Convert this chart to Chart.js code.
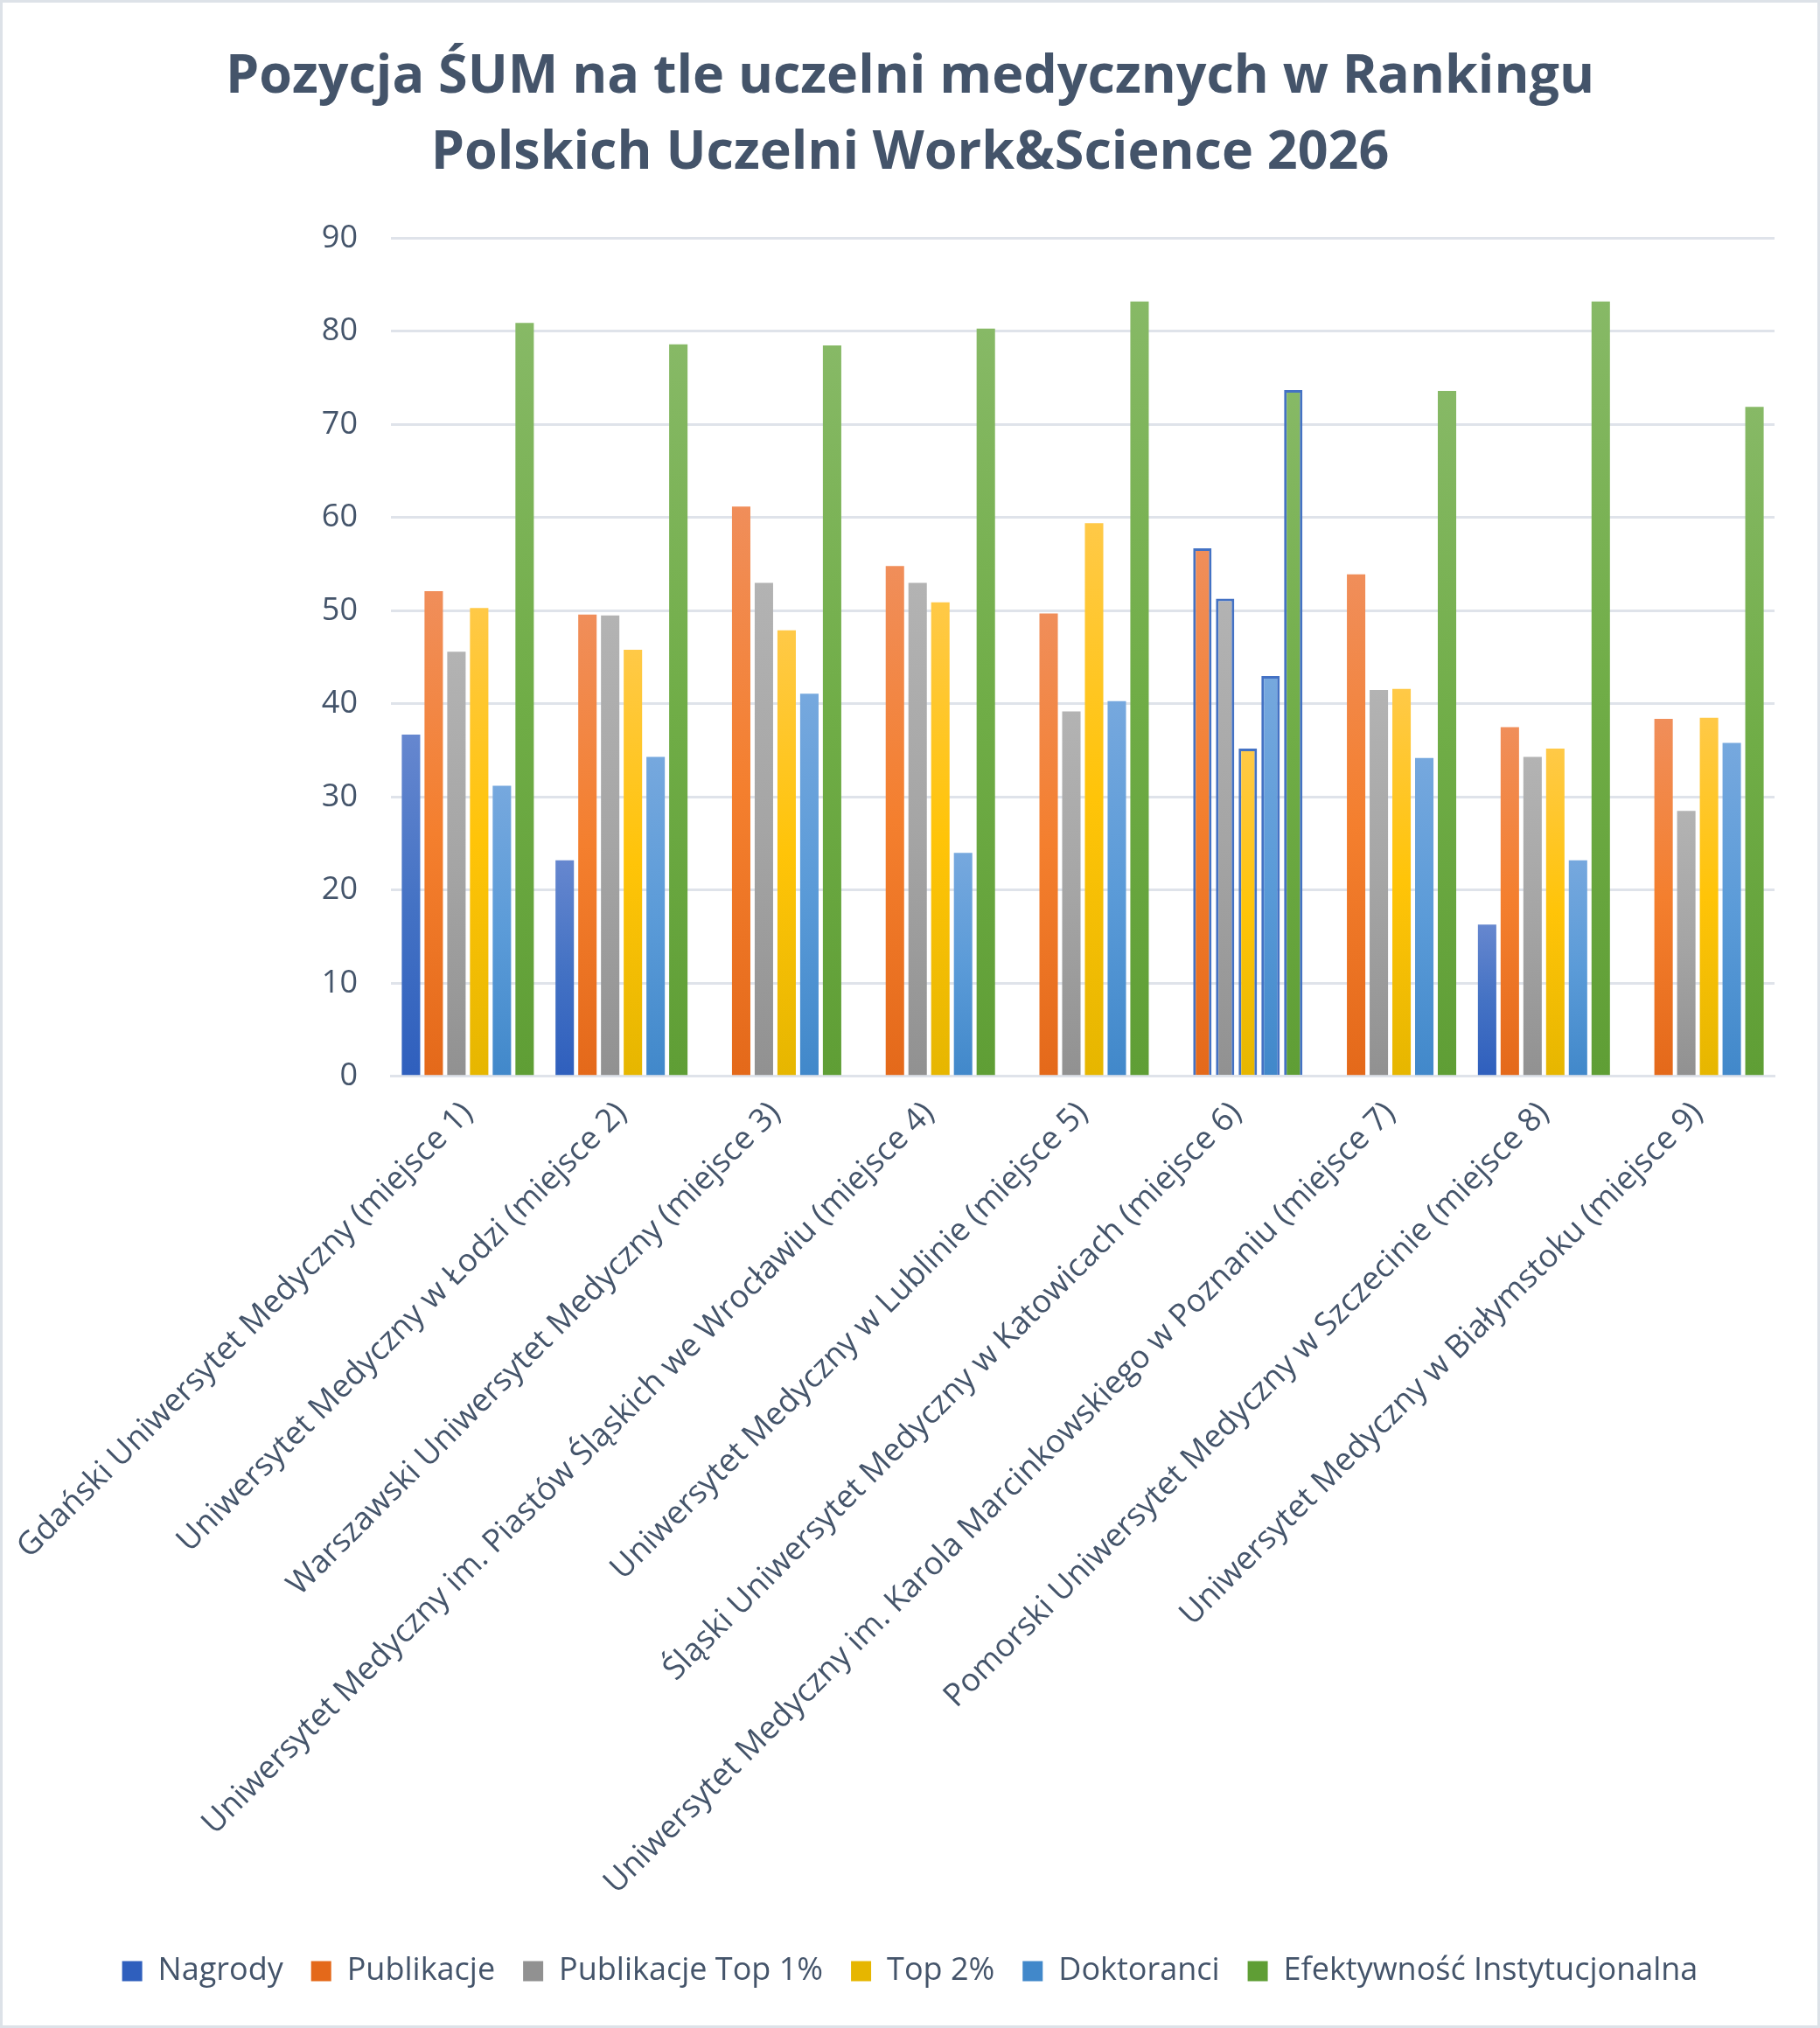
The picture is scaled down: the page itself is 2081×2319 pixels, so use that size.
<!DOCTYPE html>
<html>
<head>
<meta charset="utf-8">
<script src="https://cdn.jsdelivr.net/npm/chart.js@4.4.1/dist/chart.umd.min.js"></script>
<style>
  html, body { margin: 0; padding: 0; background: #fff; overflow: hidden; }
  #wrap { width: 2081px; height: 2319px; position: relative; }
</style>
</head>
<body>
<div id="wrap"><canvas id="chart"></canvas></div>
<script>
const universities = [
  "Gdański Uniwersytet Medyczny (miejsce 1)",
  "Uniwersytet Medyczny w Łodzi (miejsce 2)",
  "Warszawski Uniwersytet Medyczny (miejsce 3)",
  "Uniwersytet Medyczny im. Piastów Śląskich we Wrocławiu (miejsce 4)",
  "Uniwersytet Medyczny w Lublinie (miejsce 5)",
  "Śląski Uniwersytet Medyczny w Katowicach (miejsce 6)",
  "Uniwersytet Medyczny im. Karola Marcinkowskiego w Poznaniu (miejsce 7)",
  "Pomorski Uniwersytet Medyczny w Szczecinie (miejsce 8)",
  "Uniwersytet Medyczny w Białymstoku (miejsce 9)"
];
const nagrody = [36.7, 23.2, null, null, null, null, null, 16.3, null];
const publikacje = [52.1, 49.6, 61.2, 54.8, 49.7, 56.7, 53.9, 37.5, 38.4];
const publikacjeTop1 = [45.6, 49.5, 53.0, 53.0, 39.2, 51.3, 41.5, 34.3, 28.5];
const top2 = [50.3, 45.8, 47.9, 50.9, 59.4, 35.2, 41.6, 35.2, 38.5];
const doktoranci = [31.2, 34.3, 41.1, 24.0, 40.3, 43.0, 34.2, 23.2, 35.8];
const efektywnosc = [80.9, 78.6, 78.5, 80.3, 83.2, 73.7, 73.6, 83.2, 71.9];
const yTicks = [0, 10, 20, 30, 40, 50, 60, 70, 80, 90];
const highlightIndex = 5; // ŚUM

const textColor = "#44546a";
const font = "'Open Sans', 'Noto Sans', sans-serif";

// vertical office-style gradient per bar: light top, base mid, darker bottom
function barFill(top, mid, bottom) {
  return function (ctx) {
    if (ctx.type !== "data" || ctx.raw == null) return mid;
    const chart = ctx.chart;
    const y = chart.scales.y;
    if (!chart.chartArea || !y) return mid;
    const y0 = y.getPixelForValue(ctx.raw);
    const y1 = y.getPixelForValue(0);
    if (!isFinite(y0) || !isFinite(y1) || y1 - y0 < 1) return mid;
    const g = chart.ctx.createLinearGradient(0, y0, 0, y1);
    g.addColorStop(0, top);
    g.addColorStop(0.5, mid);
    g.addColorStop(1, bottom);
    return g;
  };
}

function series(label, data, c) {
  return {
    label,
    data,
    backgroundColor: barFill(c[0], c[1], c[2]),
    borderColor: "#4472c4",
    borderWidth: ctx => (ctx.dataIndex === highlightIndex ? 3 : 0),
    barPercentage: 0.81,
    categoryPercentage: 0.887,
  };
}

const frame = {
  id: "frame",
  beforeDraw(chart) {
    const c = chart.ctx;
    c.save();
    c.fillStyle = "#fff";
    c.fillRect(0, 0, chart.width, chart.height);
    c.strokeStyle = "#dde2e8";
    c.lineWidth = 4;
    c.strokeRect(1, 1, chart.width - 2, chart.height - 2);
    c.restore();
  },
};

new Chart(document.getElementById("chart"), {
  type: "bar",
  data: {
    labels: universities,
    datasets: [
      series("Nagrody", nagrody, ["#6687cf", "#4472c4", "#2f5fbd"]),
      series("Publikacje", publikacje, ["#f08e5a", "#f47f2e", "#e4691a"]),
      series("Publikacje Top 1%", publikacjeTop1, ["#b3b3b3", "#a5a5a5", "#919191"]),
      series("Top 2%", top2, ["#ffc947", "#ffc408", "#e6b600"]),
      series("Doktoranci", doktoranci, ["#76a8de", "#5b9bd8", "#4188ca"]),
      series("Efektywność Instytucjonalna", efektywnosc, ["#87b966", "#70ad47", "#5f9e35"]),
    ],
  },
  options: {
    responsive: true,
    maintainAspectRatio: false,
    animation: false,
    devicePixelRatio: 1,
    layout: { padding: { left: 52, right: 52, top: 0, bottom: 37 } },
    plugins: {
      title: {
        display: true,
        text: ["Pozycja ŚUM na tle uczelni medycznych w Rankingu", "Polskich Uczelni Work&Science 2026"],
        color: textColor,
        font: { family: font, size: 61, weight: "bold", lineHeight: 1.43 },
        padding: { top: 45, bottom: 53 },
      },
      legend: {
        position: "bottom",
        labels: {
          color: textColor,
          font: { family: font, size: 36 },
          boxWidth: 23,
          boxHeight: 23,
          padding: 32,
        },
      },
      tooltip: { enabled: false },
    },
    scales: {
      x: {
        grid: { display: false },
        border: { color: "#dfe3ea", width: 3 },
        afterFit: axis => { axis.height += 16; axis.paddingLeft = 0; },
        ticks: {
          color: textColor,
          font: { family: font, size: 36.5 },
          maxRotation: 45,
          minRotation: 45,
          autoSkip: false,
          padding: 13,
        },
      },
      y: {
        min: 0,
        max: 90,
        afterBuildTicks: axis => { axis.ticks = yTicks.map(v => ({ value: v })); },
        afterFit: axis => { axis.width = 395; },
        grid: { color: "#dfe3ea", lineWidth: 3, drawTicks: false },
        border: { display: false },
        ticks: {
          color: textColor,
          font: { family: font, size: 36 },
          padding: 38,
        },
      },
    },
  },
  plugins: [frame],
});
</script>
</body>
</html>
